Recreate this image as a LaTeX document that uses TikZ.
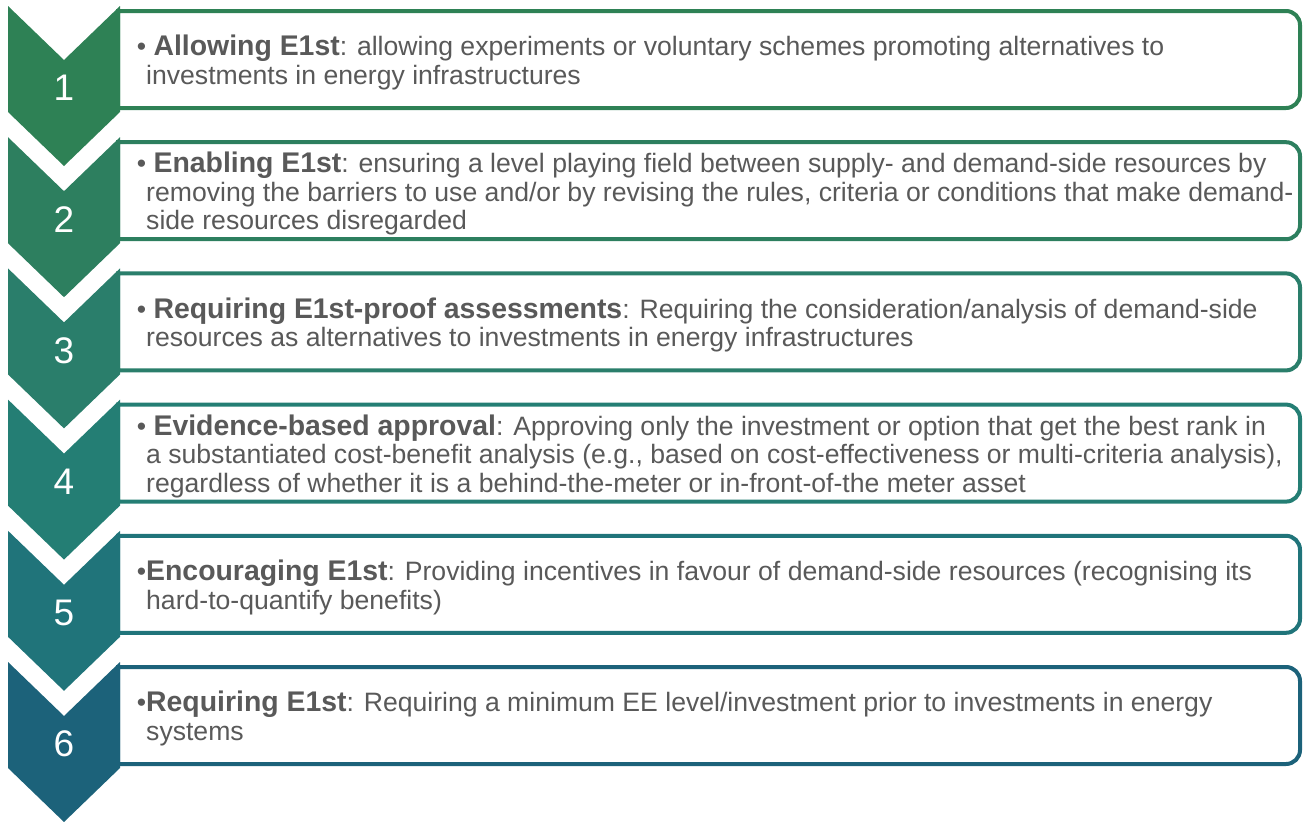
\documentclass[tikz,border=0pt]{standalone}
\usepackage{fontspec}
\setmainfont{Liberation Sans}
\usepackage{tikz}
\definecolor{lvA}{HTML}{2E8155}
\definecolor{lvB}{HTML}{2D7F5F}
\definecolor{lvC}{HTML}{2A7E6B}
\definecolor{lvD}{HTML}{247E74}
\definecolor{lvE}{HTML}{20747A}
\definecolor{lvF}{HTML}{1C627A}
\definecolor{txt}{HTML}{595959}
% bold lead-in words are set a little larger than the body
\newcommand\lead[1]{{\fontsize{28.4}{28.5}\selectfont\bfseries #1}}
\tikzset{
  chev/.style ={fill=#1},
  card/.style ={draw=#1, fill=white, line width=4pt},
  num/.style  ={text=white, inner sep=0pt, font=\fontsize{37}{37}\selectfont},
  desc/.style ={anchor=west, align=left, inner sep=0pt, text=txt,
                font=\fontsize{26.6}{28.5}\selectfont},
}

\begin{document}
\begin{tikzpicture}[x=1pt, y=-1pt]
  \useasboundingbox (0,0) rectangle (1304,822);
  % six levels: card behind, chevron on top
  \foreach \c [count=\i] in {lvA,lvB,lvC,lvD,lvE,lvF}{
    \pgfmathsetmacro\t{6+131.2*(\i-1)}
    \draw[card=\c] (118,\t+5) [rounded corners=14pt] -- (1300,\t+5) -- (1300,\t+102)
      [sharp corners] -- (118,\t+102) -- cycle;
    \fill[chev=\c] (8,\t) -- (64,\t+54) -- (120,\t) -- (120,\t+106)
      -- (64,\t+160) -- (8,\t+106) -- cycle;
    \node[num] (n\i) at (64,\t+82) {\i};
    \coordinate (c\i) at (146,\t+56.5);
  }
  \node[desc] (d1) at (c1) {\llap{•}\ \lead{Allowing E1st}: allowing experiments or voluntary schemes promoting alternatives to\\
    investments in energy infrastructures};
  \node[desc] (d2) at (c2) {\llap{•}\ \lead{Enabling E1st}: ensuring a level playing field between supply- and demand-side resources by\\
    removing the barriers to use and/or by revising the rules, criteria or conditions that make demand-\\
    side resources disregarded};
  \node[desc] (d3) at (c3) {\llap{•}\ \lead{Requiring E1st-proof assessments}: Requiring the consideration/analysis of demand-side\\
    resources as alternatives to investments in energy infrastructures};
  \node[desc] (d4) at (c4) {\llap{•}\ \lead{Evidence-based approval}: Approving only the investment or option that get the best rank in\\
    a substantiated cost-benefit analysis (e.g., based on cost-effectiveness or multi-criteria analysis),\\
    regardless of whether it is a behind-the-meter or in-front-of-the meter asset};
  \node[desc] (d5) at (c5) {\llap{•}\lead{Encouraging E1st}: Providing incentives in favour of demand-side resources (recognising its\\
    hard-to-quantify benefits)};
  \node[desc] (d6) at (c6) {\llap{•}\lead{Requiring E1st}: Requiring a minimum EE level/investment prior to investments in energy\\
    systems};
\end{tikzpicture}
\end{document}
